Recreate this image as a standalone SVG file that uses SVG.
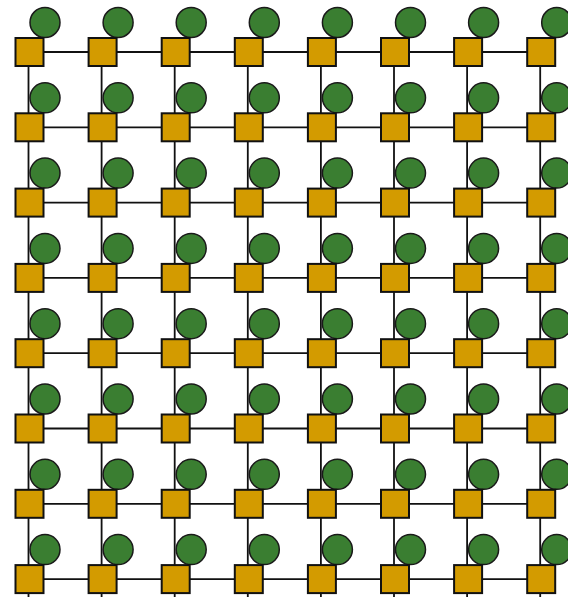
<svg xmlns="http://www.w3.org/2000/svg" width="568" height="597" viewBox="0 0 568 597">
<style>
.sq{fill:#d39b00;stroke:#111;stroke-width:2}
.ci{fill:#3a7e31;stroke:#1a1a1a;stroke-width:1.5}
.ln{stroke:#111;stroke-width:1.8;fill:none}
</style>
<rect width="568" height="597" fill="#fff"/>
<g id="connectors" class="ln">
<line class="ln" x1="29.5" y1="52" x2="541.2" y2="52"/>
<line class="ln" x1="29.5" y1="127.3" x2="541.2" y2="127.3"/>
<line class="ln" x1="29.5" y1="202.6" x2="541.2" y2="202.6"/>
<line class="ln" x1="29.5" y1="277.9" x2="541.2" y2="277.9"/>
<line class="ln" x1="29.5" y1="353.2" x2="541.2" y2="353.2"/>
<line class="ln" x1="29.5" y1="428.5" x2="541.2" y2="428.5"/>
<line class="ln" x1="29.5" y1="503.8" x2="541.2" y2="503.8"/>
<line class="ln" x1="29.5" y1="579.1" x2="541.2" y2="579.1"/>
<line class="ln" x1="28.5" y1="52" x2="28.5" y2="600"/>
<line class="ln" x1="101.6" y1="52" x2="101.6" y2="600"/>
<line class="ln" x1="174.7" y1="52" x2="174.7" y2="600"/>
<line class="ln" x1="247.8" y1="52" x2="247.8" y2="600"/>
<line class="ln" x1="320.9" y1="52" x2="320.9" y2="600"/>
<line class="ln" x1="394" y1="52" x2="394" y2="600"/>
<line class="ln" x1="467.1" y1="52" x2="467.1" y2="600"/>
<line class="ln" x1="540.2" y1="52" x2="540.2" y2="600"/>
</g>
<defs>
<g id="nd"><circle class="ci" cx="15.5" cy="-29.5" r="15"/><rect class="sq" x="-14" y="-14" width="28" height="28"/></g>
</defs>
<g id="n0_0" transform="translate(29.5,52)"><use href="#nd"/></g>
<g id="n0_1" transform="translate(102.6,52)"><use href="#nd"/></g>
<g id="n0_2" transform="translate(175.7,52)"><use href="#nd"/></g>
<g id="n0_3" transform="translate(248.8,52)"><use href="#nd"/></g>
<g id="n0_4" transform="translate(321.9,52)"><use href="#nd"/></g>
<g id="n0_5" transform="translate(395,52)"><use href="#nd"/></g>
<g id="n0_6" transform="translate(468.1,52)"><use href="#nd"/></g>
<g id="n0_7" transform="translate(541.2,52)"><use href="#nd"/></g>
<g id="n1_0" transform="translate(29.5,127.3)"><use href="#nd"/></g>
<g id="n1_1" transform="translate(102.6,127.3)"><use href="#nd"/></g>
<g id="n1_2" transform="translate(175.7,127.3)"><use href="#nd"/></g>
<g id="n1_3" transform="translate(248.8,127.3)"><use href="#nd"/></g>
<g id="n1_4" transform="translate(321.9,127.3)"><use href="#nd"/></g>
<g id="n1_5" transform="translate(395,127.3)"><use href="#nd"/></g>
<g id="n1_6" transform="translate(468.1,127.3)"><use href="#nd"/></g>
<g id="n1_7" transform="translate(541.2,127.3)"><use href="#nd"/></g>
<g id="n2_0" transform="translate(29.5,202.6)"><use href="#nd"/></g>
<g id="n2_1" transform="translate(102.6,202.6)"><use href="#nd"/></g>
<g id="n2_2" transform="translate(175.7,202.6)"><use href="#nd"/></g>
<g id="n2_3" transform="translate(248.8,202.6)"><use href="#nd"/></g>
<g id="n2_4" transform="translate(321.9,202.6)"><use href="#nd"/></g>
<g id="n2_5" transform="translate(395,202.6)"><use href="#nd"/></g>
<g id="n2_6" transform="translate(468.1,202.6)"><use href="#nd"/></g>
<g id="n2_7" transform="translate(541.2,202.6)"><use href="#nd"/></g>
<g id="n3_0" transform="translate(29.5,277.9)"><use href="#nd"/></g>
<g id="n3_1" transform="translate(102.6,277.9)"><use href="#nd"/></g>
<g id="n3_2" transform="translate(175.7,277.9)"><use href="#nd"/></g>
<g id="n3_3" transform="translate(248.8,277.9)"><use href="#nd"/></g>
<g id="n3_4" transform="translate(321.9,277.9)"><use href="#nd"/></g>
<g id="n3_5" transform="translate(395,277.9)"><use href="#nd"/></g>
<g id="n3_6" transform="translate(468.1,277.9)"><use href="#nd"/></g>
<g id="n3_7" transform="translate(541.2,277.9)"><use href="#nd"/></g>
<g id="n4_0" transform="translate(29.5,353.2)"><use href="#nd"/></g>
<g id="n4_1" transform="translate(102.6,353.2)"><use href="#nd"/></g>
<g id="n4_2" transform="translate(175.7,353.2)"><use href="#nd"/></g>
<g id="n4_3" transform="translate(248.8,353.2)"><use href="#nd"/></g>
<g id="n4_4" transform="translate(321.9,353.2)"><use href="#nd"/></g>
<g id="n4_5" transform="translate(395,353.2)"><use href="#nd"/></g>
<g id="n4_6" transform="translate(468.1,353.2)"><use href="#nd"/></g>
<g id="n4_7" transform="translate(541.2,353.2)"><use href="#nd"/></g>
<g id="n5_0" transform="translate(29.5,428.5)"><use href="#nd"/></g>
<g id="n5_1" transform="translate(102.6,428.5)"><use href="#nd"/></g>
<g id="n5_2" transform="translate(175.7,428.5)"><use href="#nd"/></g>
<g id="n5_3" transform="translate(248.8,428.5)"><use href="#nd"/></g>
<g id="n5_4" transform="translate(321.9,428.5)"><use href="#nd"/></g>
<g id="n5_5" transform="translate(395,428.5)"><use href="#nd"/></g>
<g id="n5_6" transform="translate(468.1,428.5)"><use href="#nd"/></g>
<g id="n5_7" transform="translate(541.2,428.5)"><use href="#nd"/></g>
<g id="n6_0" transform="translate(29.5,503.8)"><use href="#nd"/></g>
<g id="n6_1" transform="translate(102.6,503.8)"><use href="#nd"/></g>
<g id="n6_2" transform="translate(175.7,503.8)"><use href="#nd"/></g>
<g id="n6_3" transform="translate(248.8,503.8)"><use href="#nd"/></g>
<g id="n6_4" transform="translate(321.9,503.8)"><use href="#nd"/></g>
<g id="n6_5" transform="translate(395,503.8)"><use href="#nd"/></g>
<g id="n6_6" transform="translate(468.1,503.8)"><use href="#nd"/></g>
<g id="n6_7" transform="translate(541.2,503.8)"><use href="#nd"/></g>
<g id="n7_0" transform="translate(29.5,579.1)"><use href="#nd"/></g>
<g id="n7_1" transform="translate(102.6,579.1)"><use href="#nd"/></g>
<g id="n7_2" transform="translate(175.7,579.1)"><use href="#nd"/></g>
<g id="n7_3" transform="translate(248.8,579.1)"><use href="#nd"/></g>
<g id="n7_4" transform="translate(321.9,579.1)"><use href="#nd"/></g>
<g id="n7_5" transform="translate(395,579.1)"><use href="#nd"/></g>
<g id="n7_6" transform="translate(468.1,579.1)"><use href="#nd"/></g>
<g id="n7_7" transform="translate(541.2,579.1)"><use href="#nd"/></g>
</svg>
